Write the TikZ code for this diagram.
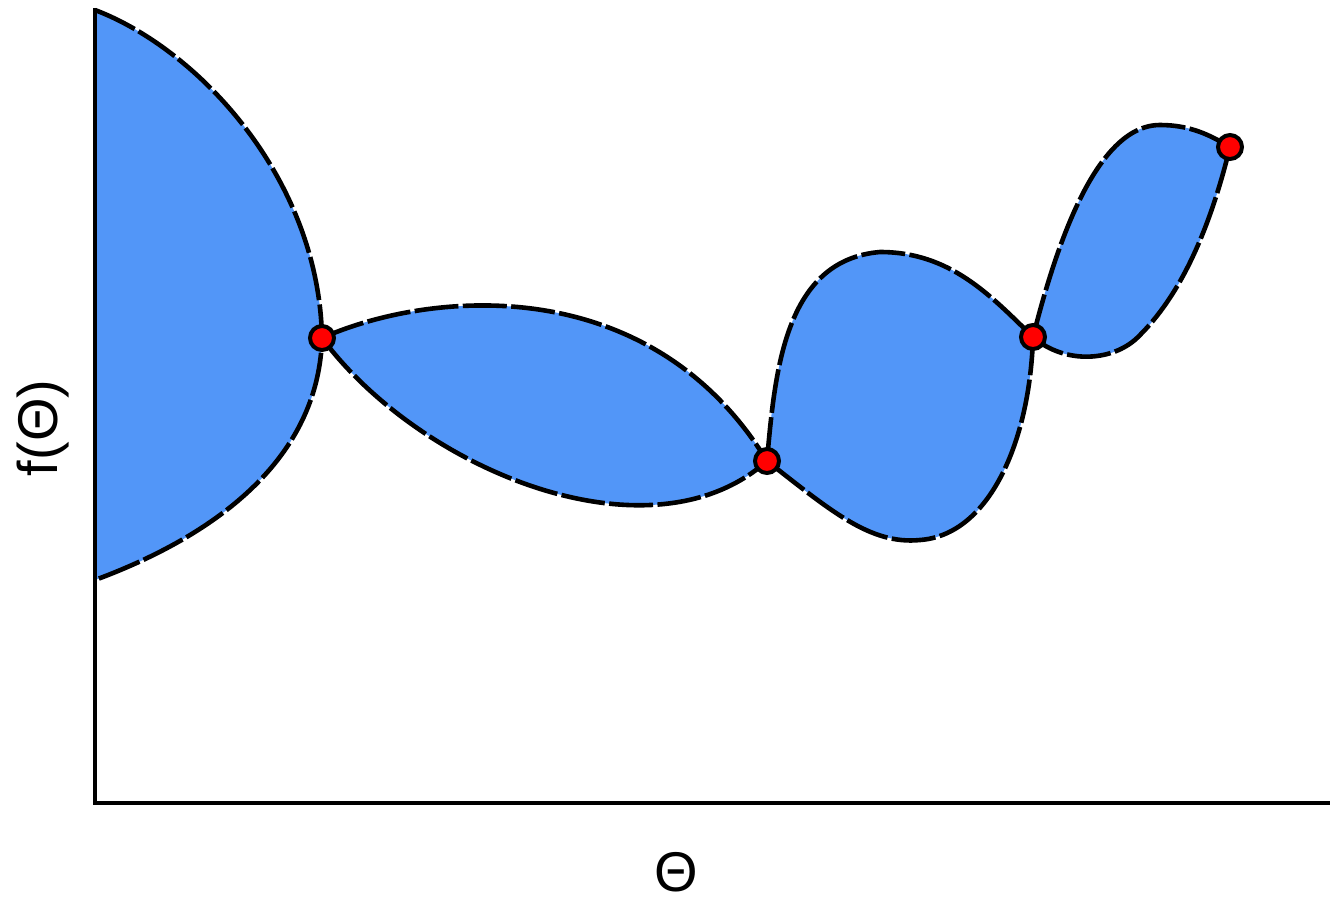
\documentclass[tikz,border=0pt]{standalone}
\usepackage{fontspec}
\setmainfont{Liberation Sans}
\definecolor{blobfill}{RGB}{82,150,248}
\definecolor{dotred}{RGB}{255,0,0}
\begin{document}
\begin{tikzpicture}[x=0.5pt,y=-0.5pt,
  blob/.style={fill=blobfill,draw=black,line width=2.3pt,dash pattern=on 22pt off 2.2pt,line join=round},
  axisline/.style={draw=black,line width=2.2pt,line cap=rect},
  dot/.style={circle,fill=dotred,draw=black,line width=2pt,minimum size=12pt,inner sep=0pt},
  lbl/.style={font=\fontsize{28}{32}\selectfont}]
\useasboundingbox (0,0) rectangle (1341,901);
\coordinate (O) at (95,803);
\coordinate (T) at (95,10);
\coordinate (B) at (95,580);
\coordinate (X) at (1328,803);
\coordinate (P1) at (322,338);
\coordinate (P2) at (767,461);
\coordinate (P3) at (1033,337);
\coordinate (P4) at (1230,147);
% left half-lobe
\fill[blobfill] (T) .. controls (200,50) and (319,180) .. (P1)
  .. controls (319,450) and (230,530) .. (B) -- cycle;
\draw[blob,fill=none] (T) .. controls (200,50) and (319,180) .. (P1)
  .. controls (319,450) and (230,530) .. (B);
% lens between P1 and P2
\draw[blob] (P1) .. controls (430,290) and (650,270) .. (P2)
  .. controls (650,565) and (420,470) .. (P1) -- cycle;
% lobe between P2 and P3
\draw[blob] (P2) .. controls (775,370) and (785,260) .. (880,252)
  .. controls (950,252) and (990,295) .. (P3)
  .. controls (1030,440) and (990,535) .. (920,540)
  .. controls (870,545) and (830,510) .. (P2) -- cycle;
% lobe between P3 and P4
\draw[blob] (P3) .. controls (1055,250) and (1095,125) .. (1160,125)
  .. controls (1190,125) and (1210,135) .. (P4)
  .. controls (1212,220) and (1185,290) .. (1140,335)
  .. controls (1115,362) and (1065,365) .. (P3) -- cycle;
% axes
\draw[axisline] (T) -- (O) -- (X);
% points
\node[dot] (d1) at (P1) {};
\node[dot] (d2) at (P2) {};
\node[dot] (d3) at (P3) {};
\node[dot] (d4) at (P4) {};
% labels
\node[lbl,rotate=90] (ylab) at (43,428) {f(Θ)};
\node[lbl] (xlab) at (676,872) {Θ};
\end{tikzpicture}
\end{document}
